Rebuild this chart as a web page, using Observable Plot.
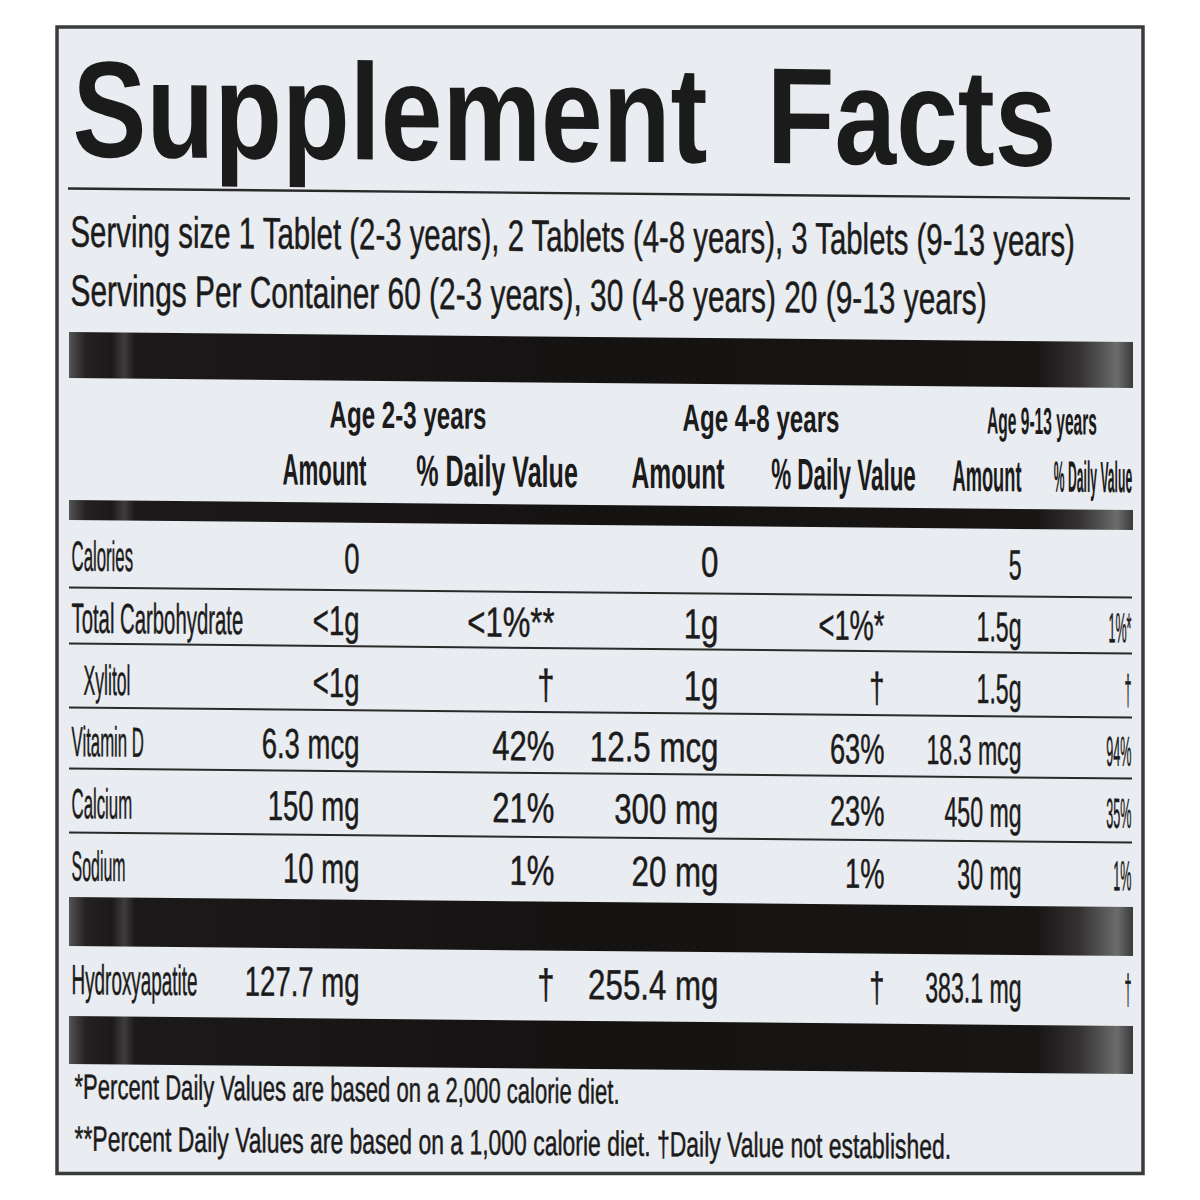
<!DOCTYPE html>
<html>
<head>
<meta charset="utf-8">
<script src="https://cdn.jsdelivr.net/npm/d3@7"></script>
<script src="https://cdn.jsdelivr.net/npm/@observablehq/plot@0.6"></script>
<style>
  html, body { margin: 0; padding: 0; background: #ffffff; overflow: hidden; }
</style>
</head>
<body>
<div id="chart"></div>
<script>
// ---------------- DATA ----------------
const title = "Supplement Facts";
const servingInfo = [
  "Serving size 1 Tablet (2-3 years), 2 Tablets (4-8 years), 3 Tablets (9-13 years)",
  "Servings Per Container 60 (2-3 years), 30 (4-8 years) 20 (9-13 years)"
];
const ageGroups = ["Age 2-3 years", "Age 4-8 years", "Age 9-13 years"];
const columnHeads = ["Amount", "% Daily Value"];
const nutrients = ["Calories", "Total Carbohydrate", "Xylitol", "Vitamin D", "Calcium", "Sodium", "Hydroxyapatite"];
const subNutrient = [false, false, true, false, false, false, false];
const amount2to3 = ["0", "<1g", "<1g", "6.3 mcg", "150 mg", "10 mg", "127.7 mg"];
const dv2to3     = ["", "<1%**", "†", "42%", "21%", "1%", "†"];
const amount4to8 = ["0", "1g", "1g", "12.5 mcg", "300 mg", "20 mg", "255.4 mg"];
const dv4to8     = ["", "<1%*", "†", "63%", "23%", "1%", "†"];
const amount9to13 = ["5", "1.5g", "1.5g", "18.3 mcg", "450 mg", "30 mg", "383.1 mg"];
const dv9to13     = ["", "1%*", "†", "94%", "35%", "1%", "†"];
const footnotes = [
  "*Percent Daily Values are based on a 2,000 calorie diet.",
  "**Percent Daily Values are based on a 1,000 calorie diet. †Daily Value not established."
];

// ---------------- LAYOUT / STYLE ----------------
const layout = {
  frame: {x1: 57, x2: 1143, y1: 27, y2: 1173.5},
  tableX: [69, 1133],
  title: {x: 72, y: 161, size: 137, sx: 0.81, wordSpacing: 35},
  serving: {x: 70, y: [251, 310], size: 44, sx: [0.668, 0.679]},
  bars: [[337, 383], [505, 525], [902, 951], [1021, 1069]],
  rules: [193, 592, 648, 712, 773, 837],
  ages: {y: 429.5, x: [407.5, 760.5, 1041.5], size: 38, sx: [0.635, 0.635, 0.41]},
  heads: {y: 487, x: [324, 496.5, 677.5, 843, 986.5, 1092.5], size: 44, sx: [0.505, 0.57, 0.56, 0.51, 0.415, 0.276]},
  rowY: [575, 637, 699, 760.5, 822.5, 885, 998.5],
  names: {x: 71, indentX: 83, size: 42, sx: [0.40, 0.484, 0.42, 0.40, 0.40, 0.38, 0.45]},
  cols: {xEnd: [359, 554, 718, 884, 1021, 1131], size: 42, sx: [0.655, 0.74, 0.745, 0.65, 0.55, 0.30]},
  foot: {x: 74, y: [1103, 1155], size: 35, sx: [0.63, 0.656]},
  skewDeg: 0.535
};
const ink = "#1c1b1b";
const font = "'Liberation Sans', Arial, Helvetica, sans-serif";

// ---------------- TABLES BUILT FROM DATA ----------------
const valueColumns = [amount2to3, dv2to3, amount4to8, dv4to8, amount9to13, dv9to13];

const titleRows = [{x: layout.title.x, y: layout.title.y, text: title, size: layout.title.size, sx: layout.title.sx, ws: layout.title.wordSpacing}];

const headerRows = [
  ...ageGroups.map((t, i) => ({x: layout.ages.x[i], y: layout.ages.y, text: t, size: layout.ages.size, sx: layout.ages.sx[i]})),
  ...ageGroups.flatMap((_, g) => columnHeads.map((t, j) => {
    const k = g * 2 + j;
    return {x: layout.heads.x[k], y: layout.heads.y, text: t, size: layout.heads.size, sx: layout.heads.sx[k]};
  }))
];

const leftRows = [
  ...servingInfo.map((t, i) => ({x: layout.serving.x, y: layout.serving.y[i], text: t, size: layout.serving.size, sx: layout.serving.sx[i]})),
  ...nutrients.map((t, i) => ({x: subNutrient[i] ? layout.names.indentX : layout.names.x, y: layout.rowY[i], text: t, size: layout.names.size, sx: layout.names.sx[i]})),
  ...footnotes.map((t, i) => ({x: layout.foot.x, y: layout.foot.y[i], text: t, size: layout.foot.size, sx: layout.foot.sx[i]}))
];

const valueRows = valueColumns.flatMap((col, c) =>
  col.map((v, r) => ({x: layout.cols.xEnd[c], y: layout.rowY[r], text: v, size: layout.cols.size, sx: layout.cols.sx[c]}))
).filter(d => d.text !== "");

const barRows = layout.bars.map(([y1, y2]) => ({x1: layout.tableX[0], x2: layout.tableX[1], y1, y2}));
const ruleRows = layout.rules.map((y, i) => ({y, x1: i === 0 ? 68 : layout.tableX[0], x2: i === 0 ? 1130 : 1132, w: i === 0 ? 2.4 : 2}));

const textGroups = [
  {label: "title-text", data: titleRows, anchor: "start", weight: "bold", stroke: 0},
  {label: "header-text", data: headerRows, anchor: "middle", weight: "bold", stroke: 0},
  {label: "left-text", data: leftRows, anchor: "start", weight: "normal", stroke: 0.5},
  {label: "value-text", data: valueRows, anchor: "end", weight: "normal", stroke: 0.5}
];

// ---------------- PLOT ----------------
const svg = Plot.plot({
  width: 1200,
  height: 1200,
  margin: 0,
  x: {type: "linear", domain: [0, 1200], range: [0, 1200], axis: null},
  y: {type: "linear", domain: [0, 1200], range: [0, 1200], axis: null},
  style: {background: "#ffffff", fontFamily: font},
  marks: [
    Plot.rect([layout.frame], {x1: "x1", x2: "x2", y1: "y1", y2: "y2", fill: "#e9ecf0", stroke: "#3b3b3b", strokeWidth: 3.5, ariaDescription: "label-frame"}),
    Plot.rect(barRows, {x1: "x1", x2: "x2", y1: "y1", y2: "y2", fill: "url(#barGrad)", ariaDescription: "bars"}),
    Plot.ruleY(ruleRows, {y: "y", x1: "x1", x2: "x2", stroke: "#2a2a2a", strokeWidth: d => d.w, ariaDescription: "rules"}),
    ...textGroups.map(g => Plot.text(g.data, {
      x: "x", y: "y", text: "text",
      fontSize: d => d.size,
      textAnchor: g.anchor, lineAnchor: "bottom",
      fontWeight: g.weight, fontFamily: font,
      fill: ink,
      ...(g.stroke ? {stroke: ink, strokeWidth: g.stroke} : {}),
      ariaDescription: g.label
    }))
  ]
});

// gradient for the black bands (photo sheen at the ends)
const root = d3.select(svg);
const defs = root.insert("defs", ":first-child");
const grad = defs.append("linearGradient").attr("id", "barGrad").attr("x1", 0).attr("x2", 1).attr("y1", 0).attr("y2", 0);
[
  [0, "#565656"], [0.008, "#3a3838"], [0.016, "#232121"], [0.04, "#1b1919"],
  [0.052, "#3e3c3c"], [0.062, "#1b1919"], [0.5, "#151212"], [0.91, "#181515"],
  [0.95, "#343232"], [0.985, "#6c6c6c"], [1, "#3a3a3a"]
].forEach(([o, c]) => grad.append("stop").attr("offset", o).attr("stop-color", c));

// horizontal condensing of each text (label typography)
textGroups.forEach(g => {
  root.select(`g[aria-description="${g.label}"]`).selectAll("text").each(function(_, i) {
    const d = g.data[i];
    if (!d) return;
    this.setAttribute("transform", `${this.getAttribute("transform") || ""} scale(${d.sx},1)`);
    if (d.ws) this.style.wordSpacing = d.ws + "px";
  });
});

// slight tilt of the printed label in the photo (frame stays square)
const t = Math.tan(layout.skewDeg * Math.PI / 180);
const content = root.append("g").attr("transform", `translate(0,${-600 * t}) skewY(${layout.skewDeg})`);
root.selectAll(":scope > g[aria-description]").filter(function() {
  return this.getAttribute("aria-description") !== "label-frame";
}).each(function() { content.node().appendChild(this); });

document.getElementById("chart").appendChild(svg);
</script>
</body>
</html>
